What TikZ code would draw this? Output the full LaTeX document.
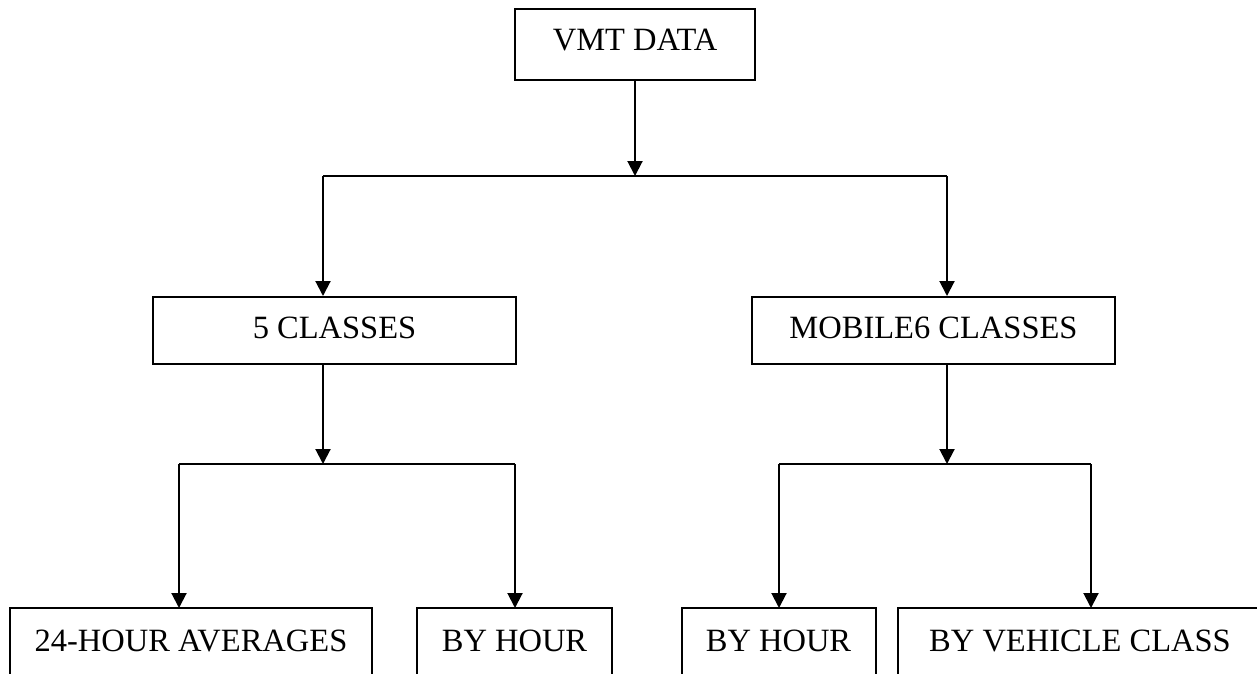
\documentclass[tikz,border=0pt]{standalone}
\usepackage{fontspec}
\setmainfont{Liberation Serif}
\usetikzlibrary{arrows.meta}

\begin{document}
\begin{tikzpicture}[x = 1pt, y = -1pt, > = {Triangle[width = 15pt, length = 15pt]}, line width = 2pt, font = \fontsize{32.5pt}{39pt}\selectfont,
	box/.style = {draw, inner sep = 0pt, anchor = north, text height = 41pt, text depth = #1},
	openbox/.style = {inner sep = 0pt, anchor = north, text height = 42pt, text depth = 23pt}]

	\useasboundingbox (0, 0) rectangle (1257, 673);

	% Boxes
	
	\node [box = 30pt, minimum width = 240pt] (vmt) at (635, 8) {VMT DATA};
	
	\node [box = 26pt, minimum width = 363pt] (cls5) at (334.5, 296) {5 CLASSES};
	\node [box = 26pt, minimum width = 363pt] (mob6) at (933.5, 296) {MOBILE6 CLASSES};
	
	\node [openbox, minimum width = 360pt] (avg24) at (191, 608) {24-HOUR AVERAGES};
	\node [openbox, minimum width = 193pt] (hourA) at (514.5, 608) {BY HOUR};
	\node [openbox, minimum width = 192pt] (hourB) at (778.5, 608) {BY HOUR};
	\node [openbox, minimum width = 362pt] (vehcls) at (1080, 608) {BY VEHICLE CLASS};
	
	\foreach \b in {avg24, hourA, hourB, vehcls}
		\draw (\b.south west) -- (\b.north west) -- (\b.north east) -- (\b.south east);
	
	% Branch points
	
	\coordinate (j1) at (635, 176);
	\coordinate (j1l) at (323, 176);
	\coordinate (j1r) at (947, 176);
	
	\coordinate (j2) at (323, 464);
	\coordinate (j2l) at (179, 464);
	\coordinate (j2r) at (515, 464);
	
	\coordinate (j3) at (947, 464);
	\coordinate (j3l) at (779, 464);
	\coordinate (j3r) at (1091, 464);
	
	% Connectors
	
	\draw [->] (vmt.south) -- (j1);
	\draw (j1l) -- (j1r);
	\draw [->] (j1l) -- (j1l |- cls5.north);
	\draw [->] (j1r) -- (j1r |- mob6.north);
	
	\draw [->] (j2 |- cls5.south) -- (j2);
	\draw (j2l) -- (j2r);
	\draw [->] (j2l) -- (j2l |- avg24.north);
	\draw [->] (j2r) -- (j2r |- hourA.north);
	
	\draw [->] (j3 |- mob6.south) -- (j3);
	\draw (j3l) -- (j3r);
	\draw [->] (j3l) -- (j3l |- hourB.north);
	\draw [->] (j3r) -- (j3r |- vehcls.north);
	
\end{tikzpicture}
\end{document}
